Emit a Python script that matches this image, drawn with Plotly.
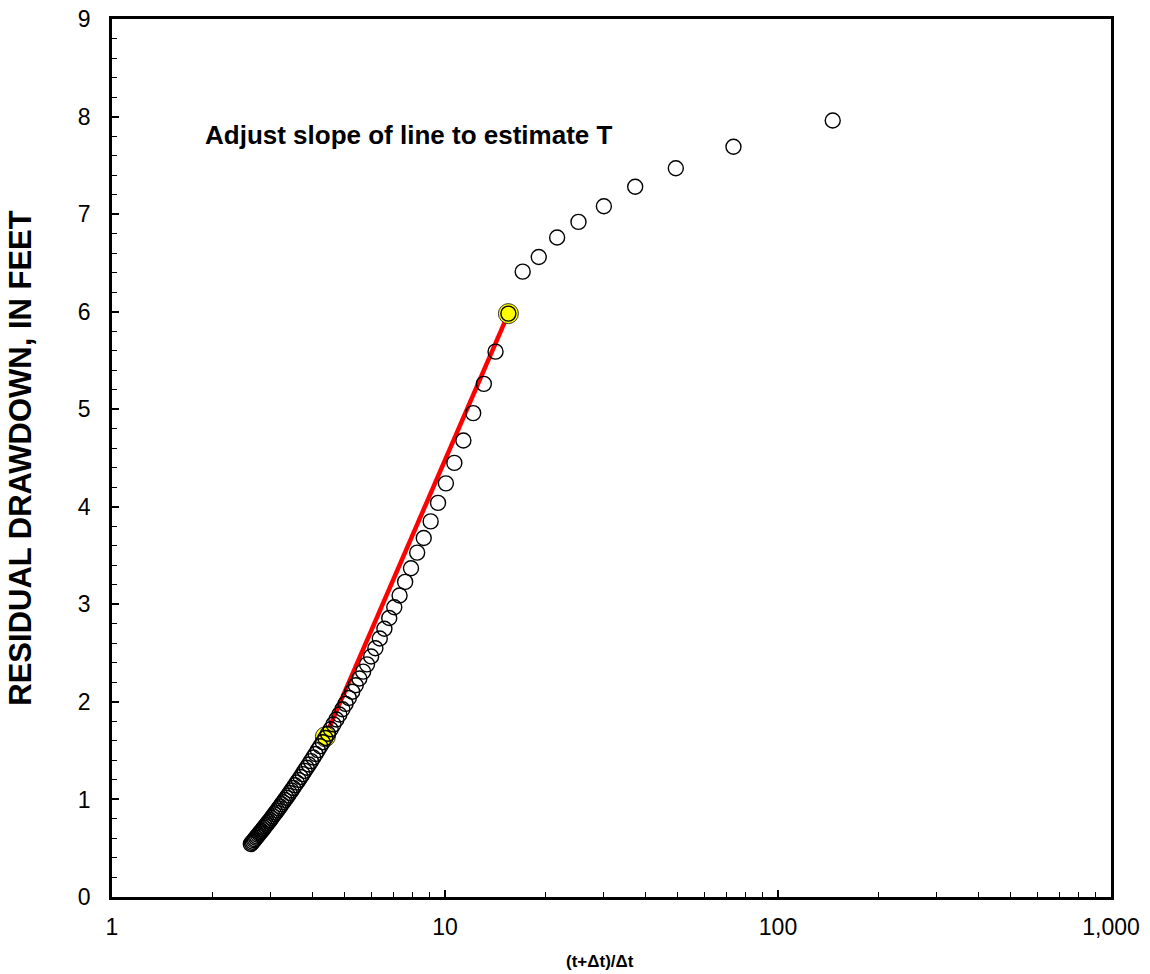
import plotly.graph_objects as go

# (t+Δt)/Δt ratio for each recovery reading
time_ratio = [146, 73.5, 49.333, 37.25, 30, 25.167, 21.714, 19.125, 17.111, 15.5,
              14.182, 13.083, 12.154, 11.357, 10.667, 10.063, 9.529, 9.056, 8.632, 8.25,
              7.905, 7.591, 7.304, 7.042, 6.8, 6.577, 6.370, 6.179, 6.0, 5.833,
              5.677, 5.531, 5.394, 5.265, 5.143, 5.028, 4.919, 4.816, 4.718, 4.625,
              4.537, 4.452, 4.372, 4.295, 4.222, 4.152, 4.085, 4.021, 3.959, 3.9,
              3.843, 3.788, 3.736, 3.685, 3.636, 3.589, 3.544, 3.5, 3.458, 3.417,
              3.377, 3.339, 3.302, 3.266, 3.231, 3.197, 3.164, 3.132, 3.101, 3.071,
              3.042, 3.014, 2.986, 2.959, 2.933, 2.908, 2.883, 2.859, 2.835, 2.813,
              2.790, 2.768, 2.747, 2.726, 2.706, 2.686, 2.667, 2.648, 2.629, 2.611]

# residual drawdown, feet
residual_drawdown = [7.96, 7.69, 7.47, 7.28, 7.08, 6.92, 6.76, 6.56, 6.41, 5.98,
                     5.59, 5.26, 4.96, 4.68, 4.45, 4.24, 4.04, 3.85, 3.68, 3.53,
                     3.37, 3.23, 3.09, 2.97, 2.86, 2.75, 2.65, 2.55, 2.465, 2.385,
                     2.31, 2.24, 2.17, 2.104, 2.04, 1.98, 1.925, 1.87, 1.82, 1.77,
                     1.72, 1.674, 1.63, 1.586, 1.545, 1.506, 1.466, 1.43, 1.393, 1.358,
                     1.325, 1.293, 1.26, 1.23, 1.20, 1.173, 1.146, 1.117, 1.092, 1.066,
                     1.04, 1.018, 0.994, 0.972, 0.95, 0.928, 0.907, 0.886, 0.866, 0.848,
                     0.828, 0.81, 0.79, 0.774, 0.757, 0.741, 0.725, 0.709, 0.693, 0.677,
                     0.663, 0.65, 0.636, 0.621, 0.608, 0.593, 0.581, 0.567, 0.555, 0.543]

# fitted straight-line end points (selected points)
line_x = [4.372, 15.5]
line_y = [1.643, 5.98]

x_tick_vals = [1, 10, 100, 1000]
x_tick_text = ["1", "10", "100", "1,000"]
y_tick_vals = [0, 1, 2, 3, 4, 5, 6, 7, 8, 9]

annotation_text = "Adjust slope of line to estimate T"
x_title = "(t+Δt)/Δt"
y_title = "RESIDUAL DRAWDOWN, IN FEET"

FONT = "Arial, 'Liberation Sans', sans-serif"

fig = go.Figure()

fig.add_trace(go.Scatter(
    x=line_x, y=line_y, mode="lines",
    line=dict(color="#FF0000", width=4.5),
    showlegend=False, hoverinfo="skip"))

fig.add_trace(go.Scatter(
    x=line_x, y=line_y, mode="markers",
    marker=dict(symbol="circle", size=20, color="#FFFF00",
                line=dict(color="#333333", width=1)),
    showlegend=False))

fig.add_trace(go.Scatter(
    x=time_ratio, y=residual_drawdown, mode="markers",
    marker=dict(symbol="circle-open", size=15, color="black",
                line=dict(color="black", width=1.4)),
    showlegend=False))

fig.add_annotation(
    x=0.273, y=7.81, xref="x", yref="y", text="<b>" + annotation_text + "</b>",
    showarrow=False, xanchor="left", yanchor="middle",
    font=dict(family=FONT, size=26, color="black"))

fig.add_annotation(
    x=0.4885, y=-0.074, xref="paper", yref="paper", text="<b>" + x_title + "</b>",
    showarrow=False, xanchor="center", yanchor="middle",
    font=dict(family=FONT, size=17, color="black"))

fig.update_layout(
    width=1150, height=974,
    margin=dict(l=112, r=39, t=19, b=77),
    paper_bgcolor="white", plot_bgcolor="white",
    font=dict(family=FONT, color="black"),
    showlegend=False,
)

fig.update_xaxes(
    type="log", range=[0, 3], automargin=False,
    tickvals=x_tick_vals, ticktext=x_tick_text,
    ticks="inside", ticklen=7, tickwidth=1.5, tickcolor="black",
    minor=dict(ticks="inside", ticklen=5, tickwidth=1, tickcolor="black", dtick="D1", showgrid=False),
    showline=True, linecolor="black", linewidth=2.5, mirror=True,
    showgrid=False, zeroline=False,
    tickfont=dict(size=23, family=FONT),
    ticklabelstandoff=8, ticklabeloverflow="allow",
)

fig.update_yaxes(
    range=[0, 9], automargin=False,
    tickvals=y_tick_vals,
    ticks="inside", ticklen=7, tickwidth=1.5, tickcolor="black",
    minor=dict(ticks="inside", ticklen=5, tickwidth=1, tickcolor="black", dtick=0.2, showgrid=False),
    showline=True, linecolor="black", linewidth=2.5, mirror=True,
    showgrid=False, zeroline=False,
    tickfont=dict(size=23, family=FONT),
    ticklabelstandoff=14, ticklabeloverflow="allow",
    title=dict(text="<b>" + y_title + "</b>", font=dict(size=31, family=FONT), standoff=38),
)

fig.write_html("out.html",
               config={"displayModeBar": False},
               post_script="document.body.style.margin='0';document.body.style.overflow='hidden';")
